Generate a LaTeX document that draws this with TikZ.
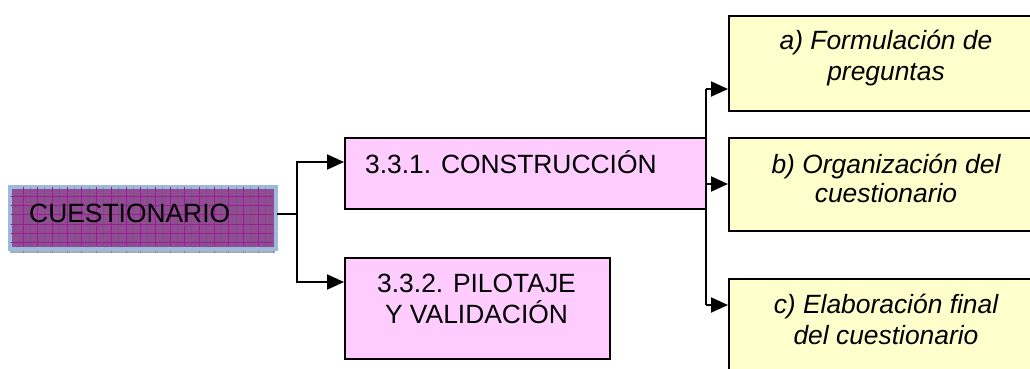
\documentclass[tikz,border=0pt]{standalone}
\usepackage{fontspec}
\setmainfont{Liberation Sans}
\usetikzlibrary{arrows.meta}
\definecolor{pinkfill}{HTML}{FFCCFF}
\definecolor{yelfill}{HTML}{FFFFCC}
\definecolor{purp}{HTML}{8E4E90}
\definecolor{gridmag}{HTML}{9B1B9B}
\definecolor{griddark}{HTML}{5E4E80}
\definecolor{frameblue}{HTML}{9DB9DD}
\definecolor{shadowgray}{HTML}{A8AEB8}
\definecolor{shadowdark}{HTML}{7C8290}
\begin{document}
\begin{tikzpicture}[x=1pt,y=-1pt,
  box/.style={draw=black, line width=2pt, anchor=north west, inner sep=0pt},
  pinkbox/.style={box, fill=pinkfill},
  yelbox/.style={box, fill=yelfill},
  txt/.style={font=\fontsize{26.4}{30}\selectfont, inner sep=0pt, anchor=base},
  itxt/.style={txt, font=\fontsize{26.4}{30}\selectfont\itshape},
  conn/.style={line width=2pt},
  arr/.style={line width=2pt, -{Triangle[length=17pt,width=15pt]}}]
\useasboundingbox (0,0) rectangle (1030,369);
\clip (0,0) rectangle (1030,369);
\fill[white] (0,0) rectangle (1030,369);

% CUESTIONARIO box with shadow and grid
\fill[shadowgray] (10,244) rectangle (275,253);
\foreach \i in {0,...,17}
  \draw[shadowdark, line width=0.8pt] ({23+14.7*\i},246) -- ++(0,7);
\node[anchor=north west, inner sep=0pt, fill=purp, draw=frameblue, line width=2.5pt,
      minimum width=265pt, minimum height=61pt] (cue) at (9,186) {};
\begin{scope}
  \clip (10.5,187.5) rectangle (272.5,245.5);
  \foreach \i in {0,...,17}
    \draw[gridmag, line width=0.8pt] ({23+14.7*\i},185) -- ++(0,65);
  \foreach \j in {0,...,6}
    \draw[gridmag, line width=0.8pt] (8,{196+9.3*\j}) -- ++(268,0);
  \foreach \i in {0,...,17}
    \draw[griddark, line width=0.5pt, opacity=0.35] ({30+14.7*\i},185) -- ++(0,65);
\end{scope}
\draw[frameblue, line width=2.5pt] (cue.north west) rectangle (cue.south east);
\node[txt, anchor=base west] (tcue) at (29,222) {CUESTIONARIO};

% middle boxes
\node[pinkbox, minimum width=361pt, minimum height=71pt] (c331) at (344,137) {};
\node[txt, anchor=base west] (t331) at (365,173) {3.3.1. CONSTRUCCIÓN};
\node[pinkbox, minimum width=265pt, minimum height=101pt] (c332) at (344,257) {};
\node[txt] (t332a) at (476.5,292) {3.3.2. PILOTAJE};
\node[txt] (t332b) at (476.5,323) {Y VALIDACIÓN};

% right boxes
\node[yelbox, minimum width=316pt, minimum height=95pt] (ya) at (728,15) {};
\node[itxt] (taa) at (886,50) {a) Formulación de};
\node[itxt] (tab) at (886,80) {preguntas};
\node[yelbox, minimum width=316pt, minimum height=93pt] (yb) at (728,137) {};
\node[itxt] (tba) at (886,173) {b) Organización del};
\node[itxt] (tbb) at (886,202) {cuestionario};
\node[yelbox, minimum width=316pt, minimum height=112pt] (yc) at (728,278) {};
\node[itxt] (tca) at (886,313) {c) Elaboración final};
\node[itxt] (tcb) at (886,344) {del cuestionario};

% connectors left
\coordinate (j1) at (297,214);
\coordinate (p331) at (344,162);
\coordinate (p332) at (344,282);
\draw[conn] (cue.east |- j1) -- (j1);
\draw[arr] (j1) |- (p331);
\draw[arr] (j1) |- (p332);

% connectors right
\coordinate (qa) at (728,89);
\coordinate (qb) at (728,184);
\coordinate (qc) at (728,305);
\coordinate (ta) at (706,89);
\coordinate (tc) at (706,305);
\draw[conn] (ta) -- (tc);
\draw[arr] (ta) -- (qa);
\draw[arr] (c331.east |- qb) -- (qb);
\draw[arr] (tc) -- (qc);
\end{tikzpicture}
\end{document}
